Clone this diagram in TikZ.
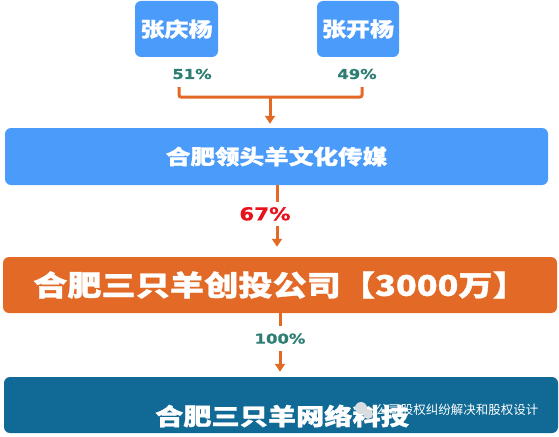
\documentclass[tikz,border=0pt]{standalone}
\usepackage{fontspec}
\usepackage{tikz}
\usetikzlibrary{arrows.meta, calc}
\newfontfamily\cjk[FakeStretch=1.2, BoldFeatures={FakeBold=1.2}]{Noto Sans CJK SC}
\newfontfamily\cjkw{Noto Sans CJK SC}
\newfontfamily\num[FakeStretch=1.2, BoldFeatures={FakeBold=0.8}]{DejaVu Sans}
\definecolor{bl}{HTML}{4A9BFA}
\definecolor{or}{HTML}{E26A26}
\definecolor{te}{HTML}{106A95}
\definecolor{gr}{HTML}{2E7E74}
\definecolor{re}{HTML}{E8121B}
\definecolor{wm}{HTML}{D8DDE2}

\tikzset{
  box/.style = {rounded corners = 6pt, inner sep = 0pt, text = white},
  pct/.style = {text = gr, inner sep = 1pt},
  arr/.style = {draw = or, line width = 3pt, -{Triangle[length = 8pt, width = 10pt]}},
  brk/.style = {draw = or, line width = 3pt, rounded corners = 2pt}
}

\begin{document}
\begin{tikzpicture}[x = 1pt, y = -1pt]

  \useasboundingbox (0,0) rectangle (559,436);

  \node[box, fill = bl, minimum width = 83pt, minimum height = 56pt] (qy) at (176.5,29)
    {\cjk\bfseries\fontsize{20pt}{20pt}\selectfont 张庆杨};
  \node[box, fill = bl, minimum width = 82pt, minimum height = 56pt] (ky) at (358,29)
    {\cjk\bfseries\fontsize{20pt}{20pt}\selectfont 张开杨};

  \node[pct] (p51) at (192,74) {\num\bfseries\fontsize{13.7pt}{14pt}\selectfont 51\%};
  \node[pct] (p49) at (357,74) {\num\bfseries\fontsize{13.7pt}{14pt}\selectfont 49\%};

  \node[box, fill = bl, minimum width = 543pt, minimum height = 57pt] (mt) at (276.5,156.5)
    {\cjk\bfseries\fontsize{20.5pt}{21pt}\selectfont 合肥领头羊文化传媒};

  \node[box, fill = or, minimum width = 554pt, minimum height = 56pt] (ct) at (280,285)
    {\cjk\bfseries\fontsize{28.5pt}{29pt}\selectfont 合肥三只羊创投公司【3000万】};

  \node[box, fill = te, minimum width = 554pt, minimum height = 56pt] (wl) at (281,405) {};
  \node[text = white, inner sep = 0pt] (wlt) at (282,416)
    {\cjk\bfseries\fontsize{23.5pt}{24pt}\selectfont 合肥三只羊网络科技};

  \coordinate (l) at (179,87);
  \coordinate (r) at (362,87);
  \coordinate (j) at (270,97);
  \draw[brk] (l) |- (j) -| (r);
  \draw[arr, shorten > = 4pt] (j) -- (j |- mt.north);

  \draw[arr, shorten > = 10pt] ($(mt.south)+(0.5,0)$) -- node[pos = 0.4, fill = white, inner xsep = 1pt, inner ysep = 5pt, xshift = -12pt, text = re]
    (p67) {\num\bfseries\fontsize{17.8pt}{18pt}\selectfont 67\%} ($(ct.north)+(-3,0)$);

  \draw[arr, shorten > = 5pt] (ct.south) -- node[pos = 0.4, fill = white, inner xsep = 1pt, inner ysep = 7pt, text = gr]
    (p100) {\num\bfseries\fontsize{13.7pt}{14pt}\selectfont 100\%} (wl.north -| ct.south);

  \fill[wm] (361,408) circle (6pt);
  \fill[wm] (368,414) circle (5pt);
  \node[text = white, inner sep = 0pt] (mark) at (457,410)
    {\cjkw\fontsize{12.5pt}{13pt}\selectfont 公司股权纠纷解决和股权设计};

\end{tikzpicture}
\end{document}
